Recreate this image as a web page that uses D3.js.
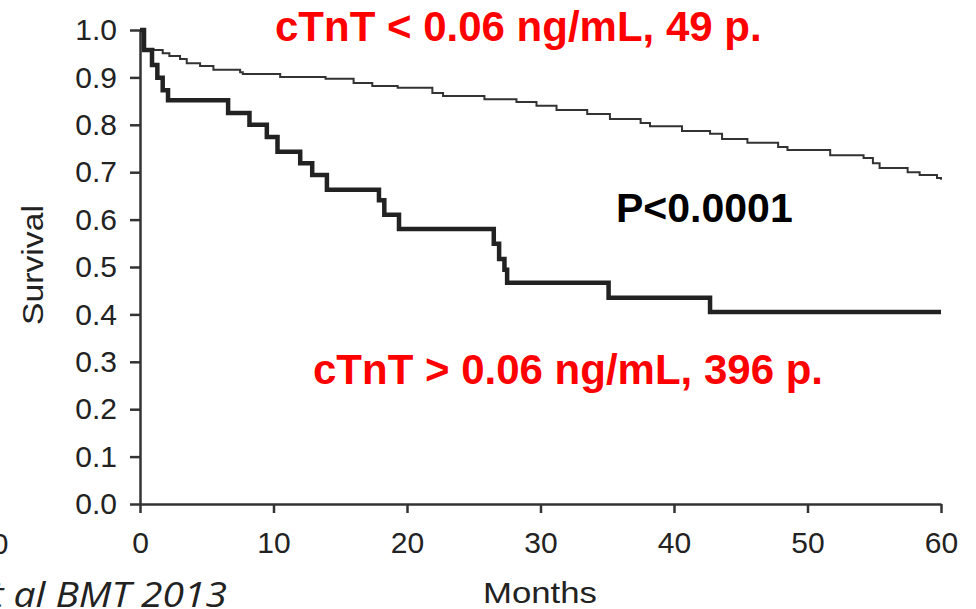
<!DOCTYPE html>
<html>
<head>
<meta charset="utf-8">
<script src="https://cdn.jsdelivr.net/npm/d3@7"></script>
<style>
  body { margin: 0; background: #fff; }
  svg { display: block; }
  .axis path, .axis line { stroke: #333; stroke-width: 2.5px; }
  .axis text { font-family: "Liberation Sans", Arial, sans-serif; font-size: 30px; fill: #222; }
</style>
</head>
<body>
<svg id="chart" width="976" height="609"></svg>
<script>
// Kaplan-Meier curves (months, survival)
var upperMonths = [0, 0.2, 1.0, 1.7, 2.2, 3.0, 3.5, 4.5, 5.5, 7.5, 7.7, 10.5, 13.9, 16.0, 17.4, 19.3, 21.9, 22.7, 25.8, 28.2, 29.7, 31.2, 33.5, 35.2, 37.5, 38.2, 40.6, 42.7, 43.6, 45.5, 47.8, 48.5, 51.7, 54.2, 54.9, 55.4, 57.5, 58.4, 59.7, 60];
var upperSurv = [1.0, 0.96, 0.958, 0.951, 0.945, 0.939, 0.930, 0.924, 0.916, 0.911, 0.907, 0.901, 0.897, 0.888, 0.882, 0.878, 0.867, 0.861, 0.854, 0.848, 0.840, 0.831, 0.823, 0.812, 0.804, 0.797, 0.787, 0.781, 0.770, 0.762, 0.753, 0.747, 0.736, 0.730, 0.719, 0.709, 0.700, 0.694, 0.688, 0.684];

var lowerMonths = [0, 0.3, 0.9, 1.3, 1.7, 2.1, 6.6, 8.2, 9.5, 10.3, 12.0, 12.9, 14.0, 17.9, 18.3, 19.4, 26.5, 26.9, 27.3, 27.5, 35.1, 42.7, 60];
var lowerSurv = [1.0, 0.958, 0.926, 0.899, 0.873, 0.852, 0.825, 0.800, 0.774, 0.743, 0.719, 0.694, 0.663, 0.641, 0.610, 0.580, 0.549, 0.517, 0.494, 0.467, 0.435, 0.405, 0.405];

var yTicks = [0, 0.1, 0.2, 0.3, 0.4, 0.5, 0.6, 0.7, 0.8, 0.9, 1.0];
var xTicks = [0, 10, 20, 30, 40, 50, 60];

var svg = d3.select('#chart');

var x = d3.scaleLinear().domain([0, 60]).range([140, 941]);
var y = d3.scaleLinear().domain([0, 1]).range([504, 30]);

// axes
svg.append('g')
	.attr('class', 'axis')
	.attr('transform', 'translate(140,0)')
	.call(d3.axisLeft(y).tickValues(yTicks).tickFormat(d3.format('.1f'))
		.tickSize(10).tickPadding(13).tickSizeOuter(0));

svg.append('g')
	.attr('class', 'axis')
	.attr('transform', 'translate(0,504)')
	.call(d3.axisBottom(x).tickValues(xTicks).tickFormat(d3.format('d'))
		.tickSize(9).tickPadding(19).tickSizeOuter(0));

// curves
var line = d3.line()
	.x(function(d) {return x(d[0]);})
	.y(function(d) {return y(d[1]);})
	.curve(d3.curveStepAfter);

svg.append('path')
	.datum(d3.zip(upperMonths, upperSurv))
	.attr('d', line)
	.attr('fill', 'none')
	.attr('stroke', '#333')
	.attr('stroke-width', 2);

svg.append('path')
	.datum(d3.zip(lowerMonths, lowerSurv))
	.attr('d', line)
	.attr('fill', 'none')
	.attr('stroke', '#222')
	.attr('stroke-width', 4.5);

// axis titles
svg.append('text')
	.attr('transform', 'translate(43,265) rotate(-90)')
	.attr('text-anchor', 'middle')
	.attr('textLength', 120)
	.attr('lengthAdjust', 'spacingAndGlyphs')
	.style('font-family', '"Liberation Sans", Arial, sans-serif')
	.style('font-size', '29px')
	.style('fill', '#222')
	.text('Survival');

svg.append('text')
	.attr('x', 540).attr('y', 603)
	.attr('text-anchor', 'middle')
	.attr('textLength', 114)
	.attr('lengthAdjust', 'spacingAndGlyphs')
	.style('font-family', '"Liberation Sans", Arial, sans-serif')
	.style('font-size', '29px')
	.style('fill', '#222')
	.text('Months');

// annotations
var bold = '"Liberation Sans", Arial, sans-serif';
svg.append('text')
	.attr('x', 275).attr('y', 41)
	.style('font-family', bold).style('font-weight', 'bold').style('font-size', '42px')
	.style('fill', '#ff0000')
	.text('cTnT < 0.06 ng/mL, 49 p.');

svg.append('text')
	.attr('x', 313).attr('y', 384)
	.style('font-family', bold).style('font-weight', 'bold').style('font-size', '42px')
	.style('fill', '#ff0000')
	.text('cTnT > 0.06 ng/mL, 396 p.');

svg.append('text')
	.attr('x', 616).attr('y', 222)
	.style('font-family', bold).style('font-weight', 'bold').style('font-size', '41px')
	.style('fill', '#000')
	.text('P<0.0001');

// cropped bits at the left edge of the slide
svg.append('text')
	.attr('x', -29).attr('y', 607)
	.attr('textLength', 256)
	.attr('lengthAdjust', 'spacingAndGlyphs')
	.style('font-family', '"Open Sans", Lato, sans-serif')
	.style('font-style', 'italic')
	.style('font-size', '34px')
	.style('fill', '#222')
	.text('et al BMT 2013');

svg.append('text')
	.attr('x', 0).attr('y', 554)
	.attr('text-anchor', 'middle')
	.style('font-family', '"Liberation Sans", Arial, sans-serif')
	.style('font-size', '30px')
	.style('fill', '#222')
	.text('0');
</script>
</body>
</html>
